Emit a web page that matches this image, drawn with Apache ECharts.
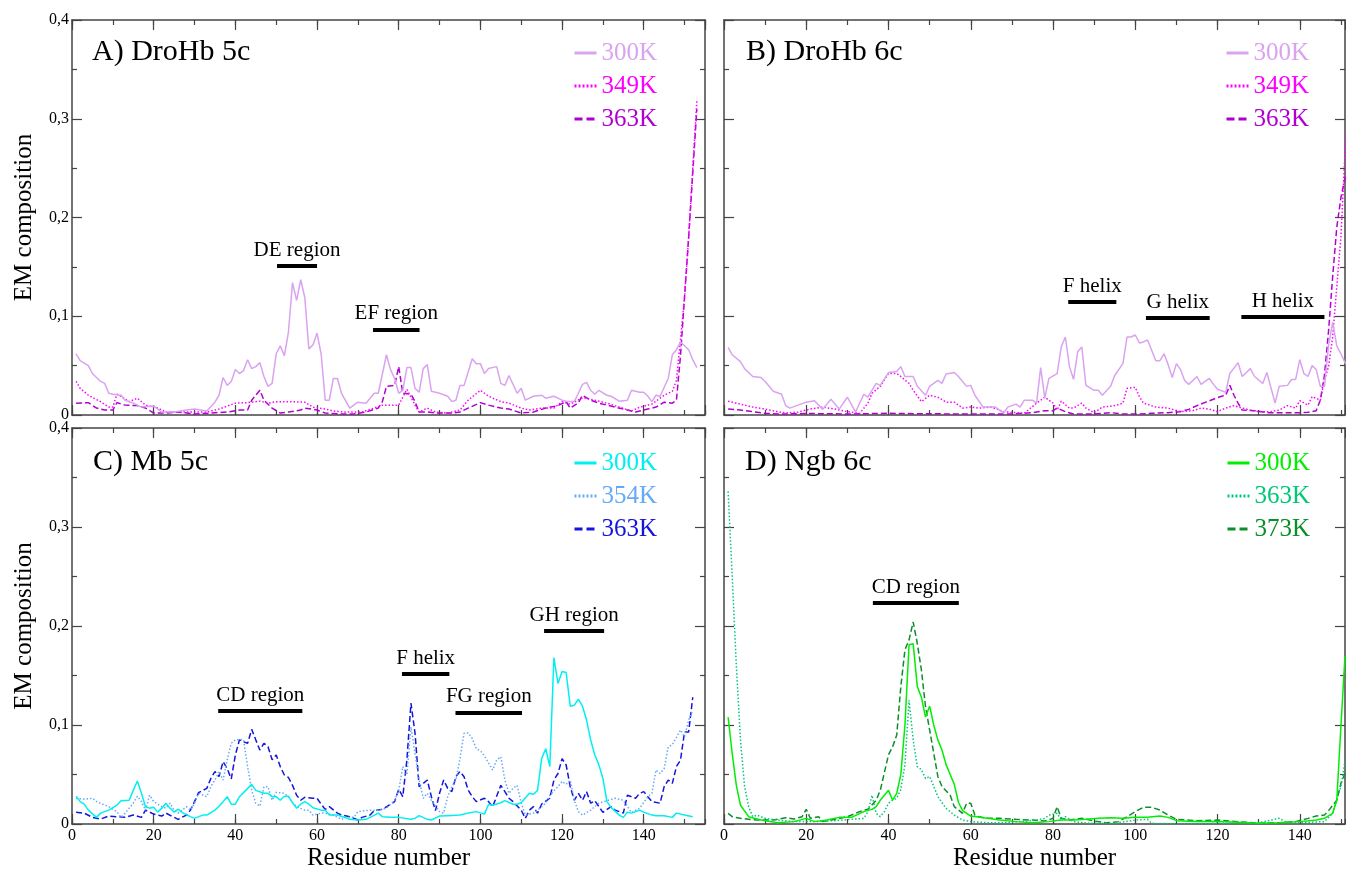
<!DOCTYPE html>
<html><head><meta charset="utf-8">
<script src="https://cdn.jsdelivr.net/npm/echarts@6/dist/echarts.min.js"></script>
<style>html,body{margin:0;padding:0;background:#fff}#c{width:1346px;height:872px}</style>
</head><body><div id="c"></div>
<script>
// ---- tick labels ----
const xTickLabels = [0, 20, 40, 60, 80, 100, 120, 140];
const yTickLabels = ['0', '0,1', '0,2', '0,3', '0,4'];
const xTitle = 'Residue number';
const yTitle = 'EM composition';

// ---- A) DroHb 5c ----
const a300 = [[1,0.062],[2,0.055],[4,0.050],[5,0.042],[7,0.034],[8,0.032],[9,0.022],[10,0.021],[12,0.020],[13,0.015],[15,0.012],[17,0.008],[20,0.009],[22,0.003],[25,0.003],[28,0.005],[30,0.006],[33,0.004],[35,0.013],[36,0.020],[37,0.038],[38,0.030],[39,0.034],[40,0.046],[41,0.042],[42,0.045],[43,0.056],[44,0.047],[45,0.049],[46,0.053],[47,0.039],[48,0.029],[49,0.032],[50,0.062],[51,0.070],[52,0.060],[53,0.084],[54,0.134],[55,0.116],[56,0.137],[57,0.119],[58,0.067],[59,0.071],[60,0.083],[61,0.062],[62,0.015],[63,0.015],[64,0.037],[65,0.037],[66,0.022],[68,0.007],[70,0.013],[72,0.012],[73,0.017],[74,0.022],[75,0.022],[77,0.061],[78,0.046],[79,0.037],[80,0.022],[81,0.025],[82,0.048],[83,0.048],[84,0.027],[85,0.023],[86,0.047],[87,0.051],[88,0.024],[90,0.022],[92,0.019],[93,0.0135],[94,0.015],[95,0.030],[96,0.030],[98,0.057],[99,0.052],[100,0.052],[101,0.042],[102,0.047],[104,0.049],[105,0.032],[106,0.030],[107,0.040],[109,0.022],[110,0.027],[111,0.015],[113,0.019],[115,0.020],[116,0.017],[118,0.019],[120,0.015],[121,0.014],[123,0.0135],[124,0.022],[125,0.031],[126,0.033],[127,0.025],[128,0.021],[129,0.025],[131,0.020],[132,0.019],[134,0.014],[136,0.015],[137,0.025],[139,0.023],[140,0.023],[141,0.019],[142,0.0135],[143,0.020],[144,0.019],[146,0.037],[147,0.061],[148,0.066],[149,0.074],[151,0.066],[152,0.056],[153,0.048]];
const a349 = [[1,0.034],[2,0.027],[4,0.020],[7,0.0135],[9,0.008],[10,0.008],[11,0.021],[12,0.019],[14,0.0135],[16,0.017],[18,0.010],[21,0.007],[23,0.003],[28,0.003],[33,0.003],[36,0.006],[40,0.012],[43,0.0125],[46,0.014],[48,0.012],[50,0.0135],[53,0.0135],[57,0.013],[59,0.008],[62,0.006],[64,0.004],[67,0.003],[71,0.003],[74,0.007],[76,0.010],[78,0.010],[80,0.010],[82,0.026],[83,0.018],[84,0.010],[85,0.003],[87,0.007],[89,0.003],[92,0.002],[95,0.005],[97,0.015],[100,0.025],[102,0.019],[105,0.0135],[107,0.012],[110,0.007],[112,0.005],[115,0.007],[118,0.007],[120,0.0135],[122,0.011],[125,0.0175],[128,0.015],[131,0.012],[134,0.008],[137,0.004],[139,0.008],[142,0.011],[145,0.020],[147,0.024],[148,0.035],[149,0.076],[150,0.12],[151,0.18],[152,0.25],[153,0.318]];
const a363 = [[1,0.012],[4,0.0125],[6,0.007],[8,0.005],[10,0.005],[11,0.0125],[13,0.010],[16,0.0095],[18,0.007],[20,0.002],[23,0.002],[26,0.003],[30,0.001],[34,0.002],[38,0.003],[41,0.005],[43,0.005],[44,0.015],[46,0.025],[47,0.015],[49,0.007],[51,0.002],[53,0.003],[56,0.005],[57,0.007],[60,0.005],[62,0.002],[66,0.001],[69,0.001],[72,0.003],[75,0.007],[76,0.0135],[77,0.029],[79,0.030],[80,0.049],[81,0.022],[83,0.021],[84,0.0135],[85,0.003],[87,0.003],[89,0.002],[93,0.002],[95,0.003],[97,0.007],[100,0.0125],[102,0.010],[105,0.007],[107,0.006],[110,0.002],[113,0.003],[116,0.007],[119,0.0095],[121,0.0135],[122,0.007],[124,0.0125],[125,0.020],[127,0.015],[129,0.012],[131,0.010],[133,0.008],[136,0.005],[138,0.003],[141,0.006],[143,0.008],[145,0.013],[147,0.012],[148,0.015],[149,0.06],[150,0.12],[151,0.18],[152,0.245],[153,0.31]];

// ---- B) DroHb 6c ----
const b300 = [[1,0.0685],[2,0.061],[4,0.054],[5,0.047],[7,0.039],[9,0.038],[10,0.034],[12,0.024],[14,0.021],[15,0.0095],[16,0.007],[18,0.010],[20,0.013],[22,0.0145],[24,0.0057],[26,0.016],[28,0.006],[30,0.018],[32,0.003],[34,0.021],[35,0.018],[37,0.032],[38,0.030],[40,0.043],[42,0.044],[43,0.049],[44,0.039],[46,0.039],[47,0.029],[49,0.020],[50,0.029],[52,0.035],[53,0.032],[54,0.0415],[56,0.043],[57,0.039],[59,0.029],[60,0.030],[61,0.020],[63,0.008],[66,0.008],[68,0.002],[69,0.008],[71,0.011],[72,0.008],[73,0.015],[75,0.015],[76,0.012],[77,0.048],[78,0.017],[79,0.037],[81,0.042],[82,0.069],[83,0.079],[84,0.049],[85,0.036],[86,0.064],[87,0.069],[88,0.030],[90,0.025],[91,0.025],[92,0.020],[94,0.029],[95,0.040],[97,0.052],[98,0.079],[99,0.079],[100,0.081],[101,0.073],[102,0.074],[103,0.076],[105,0.055],[106,0.055],[107,0.062],[108,0.051],[109,0.038],[110,0.052],[111,0.046],[112,0.035],[113,0.031],[115,0.039],[116,0.031],[118,0.037],[119,0.031],[120,0.026],[122,0.023],[123,0.042],[125,0.053],[126,0.039],[128,0.047],[129,0.039],[131,0.032],[132,0.043],[134,0.012],[135,0.029],[137,0.030],[138,0.036],[139,0.036],[140,0.056],[141,0.042],[142,0.039],[143,0.050],[144,0.046],[145,0.029],[146,0.029],[147,0.07],[148,0.094],[149,0.07],[150,0.062],[151,0.053],[152,0.05]];
const b349 = [[1,0.014],[4,0.011],[7,0.008],[10,0.006],[13,0.0034],[15,0.002],[18,0.003],[21,0.006],[24,0.008],[27,0.006],[30,0.0034],[33,0.0017],[35,0.012],[36,0.022],[38,0.029],[40,0.042],[42,0.042],[43,0.039],[45,0.032],[46,0.025],[48,0.0135],[50,0.020],[52,0.018],[54,0.013],[56,0.013],[58,0.007],[60,0.008],[62,0.007],[65,0.008],[68,0.0034],[70,0.0027],[73,0.0017],[76,0.012],[78,0.018],[80,0.012],[81,0.005],[82,0.014],[84,0.007],[85,0.007],[87,0.012],[88,0.007],[90,0.0024],[92,0.008],[95,0.0095],[97,0.012],[98,0.027],[100,0.028],[101,0.0186],[102,0.012],[105,0.008],[108,0.007],[111,0.0034],[114,0.0044],[116,0.007],[118,0.006],[120,0.0034],[122,0.007],[124,0.0095],[126,0.007],[128,0.005],[130,0.0034],[133,0.0034],[135,0.005],[137,0.0095],[139,0.007],[140,0.0145],[142,0.010],[143,0.0186],[145,0.015],[146,0.035],[147,0.049],[148,0.079],[149,0.13],[150,0.18],[151,0.265],[152,0.33]];
const b363 = [[1,0.006],[4,0.005],[7,0.0034],[10,0.0017],[14,0.001],[20,0.0015],[30,0.001],[40,0.0017],[50,0.0012],[60,0.001],[70,0.001],[75,0.0024],[78,0.0044],[80,0.0044],[81,0.007],[83,0.0034],[85,0.001],[90,0.001],[94,0.0024],[97,0.001],[101,0.001],[104,0.0017],[108,0.0024],[111,0.0034],[113,0.0057],[115,0.0095],[117,0.0128],[119,0.016],[121,0.019],[122,0.020],[123,0.030],[124,0.020],[125,0.012],[126,0.005],[129,0.0044],[132,0.0024],[136,0.0024],[140,0.0024],[142,0.0027],[144,0.0044],[145,0.015],[146,0.04],[147,0.085],[148,0.14],[149,0.19],[150,0.22],[151,0.24],[152,0.255]];

// ---- C) Mb 5c ----
const c300 = [[1,0.028],[2,0.0226],[3,0.020],[4,0.014],[6,0.0067],[7,0.011],[9,0.014],[11,0.019],[12,0.0236],[14,0.024],[15,0.034],[16,0.0434],[17,0.031],[18,0.0175],[19,0.016],[20,0.017],[21,0.012],[22,0.016],[23,0.021],[24,0.016],[25,0.012],[26,0.015],[27,0.0115],[29,0.0074],[30,0.0057],[32,0.009],[33,0.009],[35,0.014],[36,0.018],[37,0.0226],[38,0.0276],[39,0.020],[40,0.020],[41,0.0276],[42,0.0317],[44,0.040],[45,0.034],[47,0.031],[48,0.031],[49,0.0276],[50,0.0276],[51,0.024],[52,0.028],[53,0.028],[54,0.0215],[55,0.016],[56,0.020],[57,0.0226],[58,0.020],[59,0.0165],[61,0.014],[62,0.014],[63,0.009],[65,0.009],[67,0.0064],[68,0.0047],[70,0.004],[72,0.0047],[73,0.0067],[75,0.011],[76,0.0074],[78,0.0067],[80,0.0067],[83,0.0047],[84,0.0057],[85,0.0084],[87,0.0047],[88,0.004],[90,0.008],[92,0.0084],[95,0.009],[97,0.011],[99,0.0125],[101,0.010],[102,0.020],[103,0.019],[105,0.0215],[106,0.0236],[108,0.020],[109,0.020],[110,0.0215],[112,0.031],[113,0.030],[114,0.034],[115,0.066],[116,0.076],[117,0.058],[118,0.168],[119,0.142],[120,0.154],[121,0.153],[122,0.119],[123,0.120],[124,0.126],[125,0.119],[126,0.105],[127,0.085],[128,0.07],[129,0.06],[130,0.046],[131,0.0226],[132,0.0168],[134,0.009],[135,0.0067],[136,0.012],[137,0.011],[139,0.014],[140,0.012],[142,0.009],[143,0.0084],[145,0.0084],[147,0.0067],[148,0.011],[150,0.009],[152,0.0074]];
const c354 = [[1,0.026],[3,0.025],[5,0.026],[6,0.0226],[9,0.0175],[11,0.0125],[12,0.0067],[13,0.011],[15,0.021],[16,0.028],[17,0.0226],[18,0.014],[19,0.029],[20,0.0226],[22,0.0175],[23,0.016],[24,0.021],[25,0.014],[26,0.011],[28,0.0175],[29,0.014],[30,0.021],[31,0.031],[33,0.0276],[34,0.0377],[35,0.0444],[36,0.053],[37,0.0444],[38,0.0646],[39,0.0815],[40,0.085],[41,0.0855],[42,0.085],[43,0.058],[44,0.034],[45,0.021],[46,0.018],[47,0.0377],[48,0.0377],[49,0.024],[50,0.032],[52,0.031],[53,0.0276],[54,0.0215],[55,0.0175],[57,0.014],[58,0.014],[59,0.009],[61,0.011],[62,0.011],[64,0.009],[66,0.0047],[67,0.0067],[69,0.0067],[70,0.0125],[73,0.014],[75,0.014],[77,0.016],[79,0.024],[80,0.034],[81,0.058],[82,0.0495],[83,0.098],[84,0.071],[85,0.0444],[86,0.026],[87,0.031],[88,0.024],[90,0.0125],[91,0.011],[92,0.0276],[93,0.0377],[94,0.0444],[95,0.066],[96,0.0916],[97,0.092],[98,0.0865],[99,0.076],[100,0.074],[101,0.0687],[103,0.0545],[104,0.0646],[105,0.068],[106,0.0444],[107,0.031],[108,0.036],[109,0.039],[110,0.0215],[111,0.009],[113,0.011],[114,0.014],[116,0.021],[117,0.029],[119,0.0377],[120,0.043],[121,0.040],[122,0.0444],[123,0.024],[124,0.0125],[125,0.009],[127,0.014],[129,0.021],[131,0.0236],[133,0.026],[135,0.024],[137,0.0115],[139,0.016],[141,0.0276],[142,0.031],[143,0.0545],[144,0.051],[145,0.056],[146,0.078],[147,0.080],[149,0.095],[150,0.088],[151,0.105],[152,0.115]];
const c363 = [[1,0.0118],[3,0.011],[5,0.0067],[7,0.005],[9,0.008],[11,0.0074],[13,0.0067],[15,0.009],[17,0.0067],[18,0.014],[20,0.010],[22,0.008],[23,0.011],[25,0.0067],[26,0.0047],[28,0.009],[29,0.014],[30,0.0226],[31,0.0317],[33,0.036],[34,0.046],[35,0.053],[36,0.048],[37,0.063],[38,0.056],[39,0.0455],[40,0.0697],[41,0.085],[42,0.083],[43,0.0815],[44,0.0956],[45,0.085],[46,0.0747],[47,0.0815],[48,0.078],[49,0.065],[50,0.0697],[51,0.058],[52,0.0495],[53,0.047],[54,0.039],[55,0.029],[56,0.024],[57,0.027],[59,0.026],[60,0.026],[61,0.020],[62,0.0148],[63,0.0175],[65,0.011],[66,0.009],[68,0.0074],[70,0.004],[71,0.0067],[73,0.009],[74,0.0135],[76,0.0148],[78,0.02],[79,0.0226],[80,0.035],[81,0.0276],[82,0.0646],[83,0.122],[84,0.0916],[85,0.0377],[86,0.041],[87,0.0444],[88,0.0276],[89,0.0135],[90,0.031],[91,0.0444],[92,0.036],[93,0.0327],[94,0.0478],[95,0.053],[96,0.0478],[97,0.0343],[98,0.0276],[99,0.0226],[101,0.026],[102,0.0226],[103,0.0175],[105,0.039],[106,0.0327],[107,0.026],[108,0.0226],[110,0.014],[111,0.0057],[112,0.014],[113,0.0175],[114,0.011],[115,0.020],[117,0.026],[118,0.0444],[119,0.051],[120,0.066],[121,0.0596],[122,0.0377],[123,0.024],[124,0.031],[125,0.024],[126,0.0327],[127,0.021],[128,0.0236],[130,0.0118],[132,0.0175],[133,0.014],[135,0.011],[136,0.029],[138,0.026],[139,0.031],[140,0.0327],[141,0.0276],[142,0.0226],[144,0.021],[145,0.0377],[146,0.0444],[147,0.041],[148,0.058],[149,0.0646],[150,0.093],[151,0.093],[152,0.128]];

// ---- D) Ngb 6c ----
const d300 = [[1,0.108],[2,0.071],[3,0.039],[4,0.019],[6,0.0074],[9,0.004],[13,0.0013],[17,0.0024],[20,0.0057],[22,0.0024],[25,0.004],[28,0.0067],[31,0.0067],[34,0.0125],[36,0.0148],[37,0.0175],[38,0.024],[40,0.034],[41,0.024],[42,0.031],[43,0.05],[44,0.1],[45,0.181],[46,0.182],[47,0.139],[48,0.128],[49,0.108],[50,0.119],[51,0.1],[52,0.085],[53,0.0747],[54,0.06],[55,0.05],[56,0.04],[57,0.022],[58,0.0135],[59,0.0108],[60,0.008],[64,0.0057],[67,0.004],[71,0.0024],[75,0.0013],[79,0.0024],[82,0.004],[85,0.004],[88,0.0047],[91,0.0057],[94,0.0064],[97,0.0057],[100,0.0067],[103,0.0067],[106,0.008],[108,0.0067],[110,0.0034],[115,0.0024],[120,0.0024],[125,0.0017],[130,0.0007],[135,0.0013],[140,0.0024],[144,0.004],[146,0.0057],[148,0.0108],[149,0.024],[150,0.098],[151,0.170]];
const d363 = [[1,0.336],[2,0.25],[3,0.16],[4,0.085],[5,0.038],[6,0.0175],[7,0.0074],[8,0.009],[10,0.0057],[13,0.004],[17,0.0024],[22,0.0024],[27,0.0034],[31,0.0047],[34,0.0057],[35,0.0125],[36,0.029],[37,0.0108],[38,0.0074],[39,0.0125],[40,0.021],[41,0.024],[42,0.026],[43,0.035],[44,0.06],[45,0.125],[46,0.085],[47,0.058],[48,0.055],[49,0.046],[50,0.048],[51,0.038],[52,0.0276],[54,0.0158],[56,0.009],[58,0.004],[60,0.0024],[64,0.0013],[68,0.0013],[72,0.0024],[76,0.004],[78,0.0057],[79,0.009],[81,0.0108],[82,0.004],[83,0.0074],[85,0.0024],[89,0.0007],[95,0.0007],[100,0.004],[103,0.0047],[104,0.0007],[110,0.0002],[120,0.0007],[130,0.0013],[135,0.0057],[137,0.0013],[142,0.0017],[146,0.0024],[148,0.0108],[150,0.038],[151,0.063]];
const d373 = [[1,0.0108],[2,0.0074],[4,0.0057],[8,0.004],[12,0.004],[15,0.0064],[17,0.005],[19,0.0074],[20,0.0148],[21,0.0057],[23,0.0074],[24,0.0024],[27,0.0047],[30,0.0074],[32,0.0108],[34,0.0141],[35,0.0148],[37,0.024],[38,0.034],[40,0.070],[41,0.078],[42,0.090],[43,0.139],[44,0.176],[45,0.186],[46,0.204],[47,0.1825],[48,0.1556],[49,0.1185],[50,0.095],[52,0.048],[53,0.038],[55,0.029],[56,0.0175],[58,0.0108],[59,0.021],[60,0.021],[61,0.009],[62,0.0074],[64,0.0057],[67,0.0057],[71,0.0047],[75,0.004],[78,0.003],[80,0.0057],[81,0.0175],[82,0.0057],[84,0.004],[87,0.0057],[90,0.003],[93,0.0013],[96,0.0024],[98,0.0074],[100,0.0125],[102,0.0168],[104,0.0168],[106,0.0141],[108,0.009],[110,0.0047],[115,0.0034],[120,0.004],[125,0.0024],[130,0.0007],[135,0.0013],[139,0.0024],[142,0.0057],[144,0.008],[146,0.009],[147,0.0135],[149,0.024],[150,0.041],[151,0.051]];

// ---- region annotations: [text, from residue, to residue, value] ----
const annA = [['DE region',50.2,60,0.151],['EF region',73.7,85.1,0.0868]];
const annB = [['F helix',83.7,95.4,0.1148],['G helix',102.6,118.1,0.0986],['H helix',125.8,146,0.0995]];
const annC = [['CD region',35.8,56.4,0.1144],['F helix',80.8,92.4,0.152],['FG region',93.9,110.2,0.1128],['GH region',115.6,130.3,0.195]];
const annD = [['CD region',36.2,57.1,0.223]];

// ---- styling / layout ----
const FONT = "'Liberation Serif','Times New Roman',Times,serif";
const AX = '#444';
const DASH = {solid:'solid', dotted:[1.5,2], dashed:[6,3]};
const LDASH = {solid:'solid', dotted:[2,2], dashed:[8,4]};

const panels = [
  {key:'A', title:'A) DroHb 5c', grid:{left:72, top:20, width:633, height:395}, xmax:155, showY:true, showX:false,
   titlePos:[92,37], legendPos:[573,40], ann:annA,
   lines:[['300K',a300,'#d9a3f0','solid'],['349K',a349,'#ff00ff','dotted'],['363K',a363,'#b000d0','dashed']]},
  {key:'B', title:'B) DroHb 6c', grid:{left:724, top:20, width:621, height:395}, xmax:151, showY:false, showX:false,
   titlePos:[746,37], legendPos:[1225,40], ann:annB,
   lines:[['300K',b300,'#d9a3f0','solid'],['349K',b349,'#ff00ff','dotted'],['363K',b363,'#b000d0','dashed']]},
  {key:'C', title:'C) Mb 5c', grid:{left:72, top:428, width:633, height:396}, xmax:155, showY:true, showX:true,
   titlePos:[93,447], legendPos:[573,450], ann:annC,
   lines:[['300K',c300,'#00f0f0','solid'],['354K',c354,'#66aaf5','dotted'],['363K',c363,'#1414dc','dashed']]},
  {key:'D', title:'D) Ngb 6c', grid:{left:724, top:428, width:621, height:396}, xmax:151, showY:false, showX:true,
   titlePos:[745,447], legendPos:[1226,450], ann:annD,
   lines:[['300K',d300,'#00ee00','solid'],['363K',d363,'#00c878','dotted'],['373K',d373,'#0b8f2a','dashed']]}
];

const grids=[], xAxes=[], yAxes=[], series=[], legends=[], titles=[];
panels.forEach((p,k)=>{
  grids.push(Object.assign({containLabel:false, outerBoundsMode:'none'}, p.grid));
  const mkX = (pos, interval, len, main, labels) => ({
    type:'value', gridIndex:k, position:pos, min:0, max:p.xmax, interval:interval,
    axisLine:{show:main, onZero:false, lineStyle:{color:AX, width:1.5}},
    axisTick:{show:true, inside:true, length:len, lineStyle:{color:AX, width:1.2}},
    axisLabel:{show:labels, margin:4, fontFamily:FONT, fontSize:16, color:'#000', showMaxLabel:false, showMinLabel:true,
      formatter: v => xTickLabels.indexOf(v) >= 0 ? String(v) : ''},
    splitLine:{show:false},
    name: labels ? xTitle : '', nameLocation:'middle', nameGap:22,
    nameTextStyle:{fontFamily:FONT, fontSize:25, color:'#000'}
  });
  xAxes.push(mkX('bottom',20,10,true,p.showX), mkX('bottom',10,5,false,false),
             mkX('top',20,10,true,false), mkX('top',10,5,false,false));
  const mkY = (pos, labels) => ({
    type:'value', gridIndex:k, position:pos, min:0, max:0.4, interval:0.1,
    axisLine:{show:true, onZero:false, lineStyle:{color:AX, width:1.5}},
    axisTick:{show:true, inside:true, length:10, lineStyle:{color:AX, width:1.2}},
    minorTick:{show:true, splitNumber:2, length:5, lineStyle:{color:AX, width:1.2}},
    axisLabel:{show:labels, margin:3, fontFamily:FONT, fontSize:16, color:'#000',
      formatter: v => yTickLabels[Math.round(v*10)]},
    splitLine:{show:false}, minorSplitLine:{show:false},
    name: labels ? yTitle : '', nameLocation:'middle', nameGap:35,
    nameTextStyle:{fontFamily:FONT, fontSize:25, color:'#000'}
  });
  yAxes.push(mkY('left',p.showY), mkY('right',false));

  const legendData = [];
  p.lines.forEach((l,i)=>{
    const name = p.key + '|' + l[0];
    const s = {
      type:'line', name:name, xAxisIndex:k*4, yAxisIndex:k*2, data:l[1],
      symbol:'none', showSymbol:false, clip:true, color:l[2],
      lineStyle:{color:l[2], width:1.5, type:DASH[l[3]]},
      emphasis:{disabled:true}, z:3-i
    };
    if (i===0) {
      s.markLine = {
        silent:true, symbol:['none','none'], animation:false,
        lineStyle:{color:'#000', width:4, type:'solid'},
        label:{show:true, position:'insideMiddleTop', distance:5, formatter:'{b}',
               color:'#000', fontFamily:FONT, fontSize:21},
        emphasis:{disabled:true},
        data: p.ann.map(a => [{coord:[a[1],a[3]], name:a[0]}, {coord:[a[2],a[3]]}])
      };
    }
    series.push(s);
    legendData.push({name:name, textStyle:{color:l[2]},
      itemStyle:{color:'rgba(0,0,0,0)', borderColor:'rgba(0,0,0,0)', borderWidth:0, opacity:0},
      lineStyle:{width:3, type:LDASH[l[3]], color:l[2], opacity:1}});
  });
  legends.push({
    data:legendData, orient:'vertical', left:p.legendPos[0], top:p.legendPos[1], padding:0,
    itemWidth:22, itemHeight:12, itemGap:7, selectedMode:false, align:'left',
    textStyle:{fontFamily:FONT, fontSize:25, lineHeight:26},
    formatter: n => n.split('|')[1]
  });
  titles.push({text:p.title, left:p.titlePos[0], top:p.titlePos[1], padding:0,
    textStyle:{fontFamily:FONT, fontSize:30, fontWeight:'normal', color:'#000'}});
});

const chart = echarts.init(document.getElementById('c'), null, {renderer:'canvas', width:1346, height:872});
chart.setOption({
  animation:false, backgroundColor:'#fff',
  title:titles, legend:legends, grid:grids, xAxis:xAxes, yAxis:yAxes, series:series
});
</script></body></html>
